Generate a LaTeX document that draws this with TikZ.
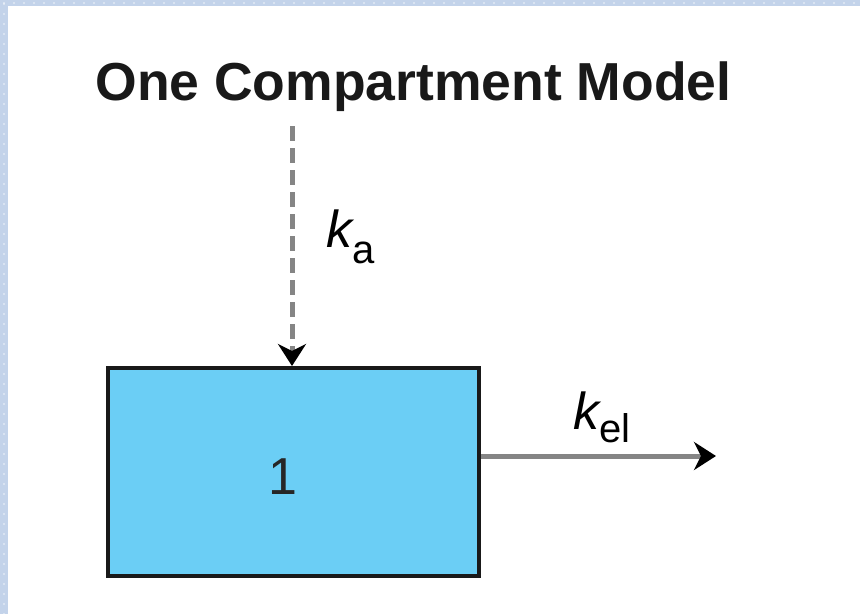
\documentclass[tikz,border=0pt]{standalone}
\usepackage{fontspec}
\setmainfont{Liberation Sans}
\usetikzlibrary{arrows.meta}
\definecolor{boxblue}{HTML}{6BCEF5}
\definecolor{frameblue}{HTML}{C3D3EA}
\definecolor{linegray}{HTML}{858585}
\begin{document}
\begin{tikzpicture}[x=1pt,y=-1pt,
  headtip/.style={-{Stealth[length=22pt,width=28pt,inset=7pt,black]}},
  ratelabel/.style={inner sep=0pt,anchor=base west},
  sizek/.style={font=\fontsize{52}{52}\selectfont}]
\useasboundingbox (0,0) rectangle (860,614);
\fill[white] (0,0) rectangle (860,614);
\fill[frameblue] (0,0) rectangle (860,6);
\fill[frameblue] (0,0) rectangle (8,614);
\foreach \i in {4,14,...,860} {\fill[white,opacity=0.5] (\i,3) circle (1.2);}
\foreach \i in {4,14,...,614} {\fill[white,opacity=0.5] (4,\i) circle (1.2);}
\node[inner sep=0pt,anchor=base,font=\fontsize{53.5}{53.5}\selectfont\bfseries,text=black!90] (title) at (413.5,100) {One Compartment Model};
\node[draw=black!90,line width=4pt,fill=boxblue,minimum width=371pt,minimum height=208pt,inner sep=0pt,anchor=north west] (box) at (106,366) {};
\node[inner sep=0pt,anchor=base,font=\fontsize{52}{52}\selectfont,text=black!85] (one) at (283,494) {1};
\coordinate (dtop) at (292,126);
\coordinate (rend) at (716,456);
\draw[linegray,line width=5pt,dash pattern=on 15pt off 7pt,headtip] (dtop) -- (dtop |- box.north);
\draw[linegray,line width=5pt,headtip] (box.east |- rend) -- (rend);
\node[ratelabel] (ka) at (326,247) {{\fontsize{52}{52}\selectfont\itshape k}\raisebox{-16pt}{\fontsize{40}{40}\selectfont a}};
\node[ratelabel] (kel) at (573,429) {{\fontsize{52}{52}\selectfont\itshape k}\raisebox{-13pt}{\fontsize{40}{40}\selectfont el}};
\end{tikzpicture}
\end{document}
